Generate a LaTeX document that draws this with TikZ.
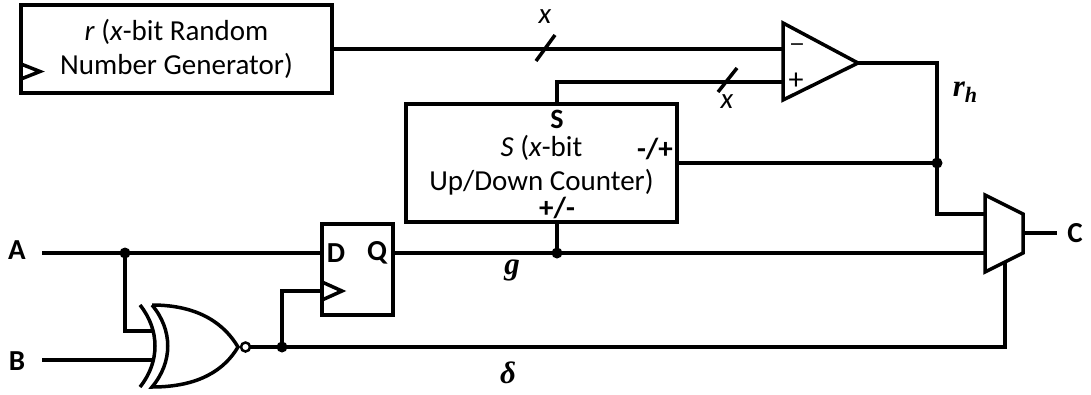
\documentclass[tikz,border=0pt]{standalone}
\usepackage{fontspec}
\setmainfont{Carlito}
\newfontfamily\sigfont{Liberation Serif}
\newfontfamily\symfont{DejaVu Sans}

\tikzset{
  blk/.style={draw,line width=3.5pt,inner sep=0pt},
  txt/.style={font=\fontsize{29}{34}\selectfont,align=center},
  pin/.style={font=\fontsize{29}{29}\selectfont\bfseries,inner sep=0pt},
  sig/.style={font=\fontsize{31}{31}\sigfont\bfseries\itshape,inner sep=0pt},
  jdot/.style={fill,circle,inner sep=0pt,minimum size=11pt},
}

\begin{document}
\begin{tikzpicture}[x=1pt,y=-1pt,line width=3.5pt]
\useasboundingbox (0,0) rectangle (1091,394);

% blocks
\node[blk,txt,minimum width=311pt,minimum height=88pt] (rng) at (176.5,49)
  {\textit{r} (\textit{x}-bit Random\\Number Generator)};
\draw (21,64) -- (40,71.5) -- (21,79);

\node[blk,minimum width=271pt,minimum height=118pt] (cnt) at (541.5,163) {};
\node[txt,inner sep=0pt,anchor=base] (cnt-t1) at (541.5,156) {\textit{S} (\textit{x}-bit};
\node[txt,inner sep=0pt,anchor=base] (cnt-t2) at (541.5,190) {Up/Down Counter)};
\node[pin,font=\fontsize{28}{28}\selectfont\bfseries] (cnt-s) at (557,119) {S};
\node[pin] (cnt-pm) at (557,208) {+/-};
\node[pin] (cnt-mp) at (655,149) {-/+};

\node[blk,minimum width=71pt,minimum height=91pt] (dff) at (357.5,269.5) {};
\node[pin] (dff-d) at (336,253) {D};
\node[pin] (dff-q) at (377,253) {Q};
\draw (322,282) -- (342,291) -- (322,300);
\coordinate (dclk) at (322,291);

% comparator
\draw (783,23) -- (858,63) -- (783,100) -- cycle;
\coordinate (cmp-m) at (783,49);
\coordinate (cmp-p) at (783,82);
\coordinate (cmp-o) at (858,63);
\node[font=\fontsize{19}{19}\symfont,inner sep=0pt] at (797,47) {−};
\node[font=\fontsize{30}{30}\selectfont,inner sep=0pt] at (796,81) {+};

% mux
\draw (985,195) -- (1023,214) -- (1023,253) -- (985,272) -- cycle;
\coordinate (mux-a) at (985,214);
\coordinate (mux-b) at (985,253);
\coordinate (mux-s) at (1005,262);
\coordinate (mux-o) at (1023,233);

% xnor gate
\draw (140,305) .. controls (160,330) and (160,362) .. (140,387);
\draw (152,305) .. controls (173,330) and (173,362) .. (152,387)
  .. controls (200,387) and (225,369) .. (238,347)
  .. controls (225,325) and (200,305) .. (152,305);
\draw[line width=2.5pt] (245.5,347) circle[radius=4.5pt];
\coordinate (xa) at (153,331);
\coordinate (xb) at (153,360);
\coordinate (xo) at (250,347);

% inputs / output
\node[pin] (A) at (17,250) {A};
\node[pin] (B) at (17,361) {B};
\node[pin] (C) at (1075,233) {C};
\coordinate (ain) at (42,253);
\coordinate (bin) at (42,360);
\coordinate (cout) at (1057,233);

% junctions
\coordinate (ja) at (125,253);
\coordinate (jd) at (282,347);
\coordinate (jg) at (557,253);
\coordinate (rh) at (937,163);

% wires
\draw (ain) -- (ain -| dff.west);
\draw (ja) |- (xa);
\draw (bin) -- (xb);
\draw (xo) -| (mux-s);
\draw (jd) |- (dclk);
\draw (dff.east |- ain) -- (mux-b);
\draw (jg) -- (cnt.south -| jg);
\draw (cnt.north -| jg) |- (cmp-p);
\draw (rng.east) -- (cmp-m);
\draw (cmp-o) -| (rh) |- (mux-a);
\draw (cnt.east) -- (rh);
\draw (mux-o) -- (cout);
\foreach \p in {ja,jd,jg,rh} { \node[jdot] at (\p) {}; };

% bus widths
\draw (545.5,48) ++(-9.5,13) -- ++(19,-26);
\node[txt] at (545,17) {\textit{x}};
\draw (727.5,80) ++(-9.5,12) -- ++(19,-24);
\node[txt] at (727,102) {\textit{x}};

% signal names
\node[sig] (lbl-rh) at (965,92) {r\raisebox{-6pt}{\fontsize{22}{22}\selectfont h}};
\node[sig] (lbl-g) at (512,270) {g};
\node[sig] (lbl-d) at (508,373) {δ};
\end{tikzpicture}
\end{document}
